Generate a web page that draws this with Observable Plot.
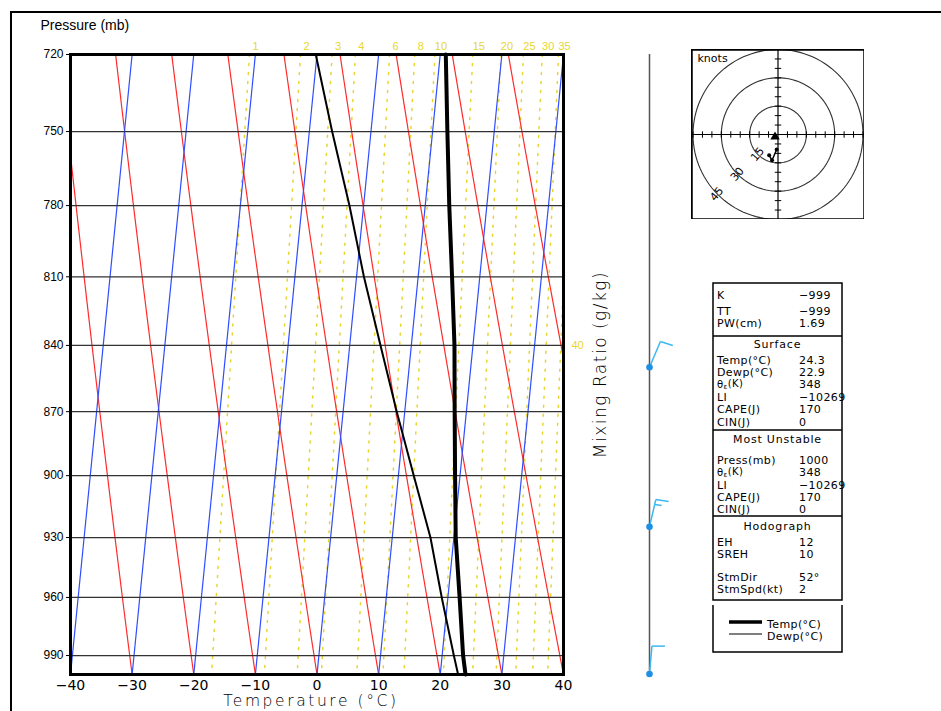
<!DOCTYPE html>
<html><head><meta charset="utf-8">
<script src="https://cdn.jsdelivr.net/npm/d3@7"></script>
<script src="https://cdn.jsdelivr.net/npm/@observablehq/plot@0.6"></script>
<style>
body{margin:0;background:#fff}
#wrap{position:relative;width:941px;height:711px;overflow:hidden;background:#fff}
#wrap > svg{position:absolute}
#border{position:absolute;left:10px;top:11px;width:940px;height:710px;border-left:2px solid #000;border-top:2px solid #000;pointer-events:none}
</style>
</head><body><div id="wrap"><div id="border"></div></div>
<script>
// ---------------- data ----------------
const pressureTicks = [720, 750, 780, 810, 840, 870, 900, 930, 960, 990];
const tempTicks = [-40, -30, -20, -10, 0, 10, 20, 30, 40];
const isotherms = [-50, -40, -30, -20, -10, 0, 10, 20, 30, 40];
const dryAdiabats = [-40, -30, -20, -10, 0, 10, 20, 30, 40, 50, 60];
const mixingRatios = [1, 2, 3, 4, 6, 8, 10, 15, 20, 25, 30, 35, 40];
const mixingLabelSide = [40];
const mixingLabelSideP = [840];
const profileP  = [1000, 990, 960, 930, 900, 870, 840, 810, 780, 750, 720];
const profileT  = [24.1, 23.4, 21.9, 20.3, 19.2, 18.1, 17.0, 15.5, 13.9, 12.4, 10.9];
const profileTd = [22.9, 21.9, 19.0, 16.2, 12.5, 8.7, 5.0, 1.2, -2.3, -6.3, -10.2];
const windP   = [1000, 925, 850];
const windDir = [5, 13, 23];
const windSpd = [8, 14, 12];
const hodoRings = [15, 30, 45];
const hodoTicks = [-45,-40,-35,-30,-25,-20,-15,-10,-5,5,10,15,20,25,30,35,40,45];
const stormDir = [52];
const stormSpd = [2];
const indexLabels = ["K", "TT", "PW(cm)"];
const indexValues = ["\u2212999", "\u2212999", "1.69"];
const surfaceLabels = ["Temp(\u00b0C)", "Dewp(\u00b0C)", "THETAE", "LI", "CAPE(J)", "CIN(J)"];
const surfaceValues = ["24.3", "22.9", "348", "\u221210269", "170", "0"];
const unstableLabels = ["Press(mb)", "THETAE", "LI", "CAPE(J)", "CIN(J)"];
const unstableValues = ["1000", "348", "\u221210269", "170", "0"];
const hodoLabels = ["EH", "SREH", "", "StmDir", "StmSpd(kt)"];
const hodoValues = ["12", "10", "", "52\u00b0", "2"];
const legendLabels = ["Temp(\u00b0C)", "Dewp(\u00b0C)"];

// ---------------- helpers (diagram geometry) ----------------
const SKEW = 10; // degrees C shift between 1000 and 720 mb
const skew = p => SKEW * Math.log(1000 / p) / Math.log(1000 / 720);
const pSamples = d3.range(720, 1000.001, 5);
const adiabatPts = dryAdiabats.flatMap(th => pSamples.map(p => {
  const t = (th + 273.15) * Math.pow(p / 1000, 0.2857) - 273.15;
  return {th, p, x: t + skew(p)};
}));
const tdFromW = (w, p) => { const e = w * p / 622; const l = Math.log(e / 6.112); return 243.5 * l / (17.67 - l); };
const mixPts = mixingRatios.flatMap(w => pSamples.map(p => ({w, p, x: tdFromW(w, p) + skew(p)})));
const mixTop = mixingRatios.filter(w => !mixingLabelSide.includes(w)).map(w => ({w, x: tdFromW(w, 720) + skew(720)}));
const sideLabels = mixingLabelSide.map((w, i) => ({w, p: mixingLabelSideP[i]}));
const profile = profileP.map((p, i) => ({p, t: profileT[i] + skew(p), td: profileTd[i] + skew(p)}));
const winds = windP.map((p, i) => ({p, dir: windDir[i], spd: windSpd[i],
  u: -windSpd[i] * Math.sin(windDir[i] * Math.PI / 180),
  v: -windSpd[i] * Math.cos(windDir[i] * Math.PI / 180)}));
const storm = stormDir.map((d, i) => ({u: -stormSpd[i] * Math.sin(d * Math.PI / 180), v: -stormSpd[i] * Math.cos(d * Math.PI / 180)}));

const gold = "#e8d62e";
const hershey = "DejaVu Sans";

function barbMark(index, scales) {
  const g = d3.create("svg:g");
  const sx = scales.x(40) + 86.5;
  g.append("line").attr("x1", sx).attr("x2", sx)
    .attr("y1", scales.y(720)).attr("y2", scales.y(1000))
    .attr("stroke", "#555").attr("stroke-width", 1.5);
  winds.forEach(w => {
    const by = scales.y(w.p);
    const th = w.dir * Math.PI / 180, L = 28;
    const ux = Math.sin(th), uy = -Math.cos(th);
    const tx = sx + L * ux, ty = by + L * uy;
    const fth = (w.dir + 85) * Math.PI / 180, fx = Math.sin(fth), fy = -Math.cos(fth);
    const s = Math.round(w.spd / 5) * 5;
    const full = Math.floor(s / 10), half = s % 10 >= 5;
    const stroke = "#3cb8f0";
    g.append("line").attr("x1", sx).attr("y1", by).attr("x2", tx).attr("y2", ty)
      .attr("stroke", stroke).attr("stroke-width", 1.5);
    let pos = 0;
    for (let k = 0; k < full; k++) {
      const x0 = tx - pos * ux, y0 = ty - pos * uy;
      g.append("line").attr("x1", x0).attr("y1", y0).attr("x2", x0 + 13 * fx).attr("y2", y0 + 13 * fy)
        .attr("stroke", stroke).attr("stroke-width", 1.5);
      pos += 5;
    }
    if (half) {
      if (full === 0) pos = 5;
      const x0 = tx - pos * ux, y0 = ty - pos * uy;
      g.append("line").attr("x1", x0).attr("y1", y0).attr("x2", x0 + 7 * fx).attr("y2", y0 + 7 * fy)
        .attr("stroke", stroke).attr("stroke-width", 1.5);
    }
    g.append("circle").attr("cx", sx).attr("cy", by).attr("r", 3.3).attr("fill", "#1e8fe6");
  });
  return g.node();
}

const main = Plot.plot({
  width: 941, height: 711,
  marginLeft: 70, marginRight: 378, marginTop: 54, marginBottom: 37,
  x: {domain: [-40, 40]},
  y: {type: "log", domain: [1000, 720]},
  style: {fontFamily: "Liberation Sans, Arial, sans-serif", background: "white", overflow: "visible"},
  marks: [
    Plot.line(mixPts, {x: "x", y: "p", z: "w", stroke: gold, strokeWidth: 1.5, strokeDasharray: "2,7", clip: true}),
    Plot.line(adiabatPts, {x: "x", y: "p", z: "th", stroke: "#ff2b2b", strokeWidth: 1.2, clip: true}),
    Plot.link(isotherms, {x1: d => d, y1: () => 1000, x2: d => d + skew(720), y2: () => 720, stroke: "#2f4dff", strokeWidth: 1.2, clip: true}),
    Plot.ruleY(pressureTicks.slice(1), {stroke: "#333", strokeWidth: 1.3}),
    Plot.line(profile, {x: "td", y: "p", stroke: "black", strokeWidth: 2}),
    Plot.line(profile, {x: "t", y: "p", stroke: "black", strokeWidth: 4}),
    Plot.frame({stroke: "black", strokeWidth: 3}),
    Plot.axisY({ticks: pressureTicks, tickSize: 4, tickFormat: () => "", label: null}),
    Plot.text(pressureTicks, {y: d => d, text: d => String(d), frameAnchor: "left", textAnchor: "end", dx: -7, fontSize: 12}),
    Plot.axisX({ticks: tempTicks, tickSize: 0, tickPadding: 6, label: null, fontSize: 14, fontFamily: hershey}),
    Plot.text(mixTop, {x: "x", y: () => 720, text: d => String(d.w), dy: -8, dx: 6, fill: gold, fontSize: 11}),
    Plot.text(sideLabels, {x: () => 40, y: "p", text: d => String(d.w), dx: 14, fill: gold, fontSize: 11}),
    Plot.text(["Temperature (\u00b0C)"], {frameAnchor: "bottom", lineAnchor: "middle", text: d => d, dy: 27, dx: -6, fontSize: 15.5, fontFamily: hershey}),
    Plot.text(["Mixing Ratio (g/kg)"], {frameAnchor: "right", textAnchor: "middle", lineAnchor: "middle", text: d => d, dx: 37, rotate: -90, fontSize: 17, fontFamily: hershey}),
    Plot.text(["Pressure (mb)"], {frameAnchor: "top-left", lineAnchor: "middle", text: d => d, dx: -30, dy: -29, textAnchor: "start", fontSize: 14}),
    barbMark
  ]
});
const wrap = document.getElementById("wrap");
wrap.insertBefore(main, wrap.firstChild);
main.style.left = "0px"; main.style.top = "0px";

const ms = d3.select(main);
ms.selectAll("text").filter(function(){ return this.textContent === "Temperature (\u00b0C)"; }).style("letter-spacing", "2.6px").attr("font-weight", 200);
ms.selectAll("text").filter(function(){ return this.textContent === "Mixing Ratio (g/kg)"; }).style("letter-spacing", "1.5px").attr("font-weight", 200);

// ---------------- stats panel ----------------
const sp = ms.append("g").attr("font-family", hershey).attr("font-size", 11).attr("fill", "black").attr("text-anchor", "start");
const bx0 = 713, bx1 = 842, lx = 717, vx = 799, cx = (bx0 + bx1) / 2;
sp.append("rect").attr("x", bx0).attr("y", 283).attr("width", bx1 - bx0).attr("height", 600 - 283)
  .attr("fill", "none").attr("stroke", "black").attr("stroke-width", 1.5);
[336, 430, 516].forEach(y => sp.append("line").attr("x1", bx0).attr("x2", bx1).attr("y1", y).attr("y2", y).attr("stroke", "black").attr("stroke-width", 1.5));
sp.append("path").attr("d", `M${bx0},605V652H${bx1}V605`).attr("fill", "none").attr("stroke", "black").attr("stroke-width", 1.5);

function row(label, value, y) {
  const t = sp.append("text").attr("x", lx).attr("y", y).attr("dy", "0.35em").attr("text-anchor", "start").style("letter-spacing", "0.4px");
  if (label === "THETAE") {
    t.attr("font-size", 10);
    t.text("\u03b8");
    t.append("tspan").attr("font-size", 7).attr("dy", "0.2em").text("\u03b5");
    t.append("tspan").attr("dy", "-0.2em").text("(K)");
  } else t.text(label);
  sp.append("text").attr("x", vx).attr("y", y).attr("dy", "0.35em").attr("text-anchor", "start").style("letter-spacing", "0.4px").text(value);
}
function header(label, y) {
  sp.append("text").attr("x", cx).attr("y", y).attr("dy", "0.35em").attr("text-anchor", "middle").style("letter-spacing", "0.8px").text(label);
}
[295, 311, 323].forEach((y, i) => row(indexLabels[i], indexValues[i], y));
header("Surface", 344);
[360, 372, 384, 397, 409, 422].forEach((y, i) => row(surfaceLabels[i], surfaceValues[i], y));
header("Most Unstable", 439);
[460, 472, 485, 497, 509].forEach((y, i) => row(unstableLabels[i], unstableValues[i], y));
header("Hodograph", 526);
[542, 554, 566, 577, 589].forEach((y, i) => { if (hodoLabels[i]) row(hodoLabels[i], hodoValues[i], y); });
sp.append("line").attr("x1", 729).attr("x2", 762).attr("y1", 622).attr("y2", 622).attr("stroke", "black").attr("stroke-width", 3.5);
sp.append("line").attr("x1", 729).attr("x2", 762).attr("y1", 634).attr("y2", 634).attr("stroke", "black").attr("stroke-width", 1.2);
sp.append("text").attr("x", 767).attr("y", 624).attr("dy", "0.35em").attr("text-anchor", "start").style("letter-spacing", "0.4px").text(legendLabels[0]);
sp.append("text").attr("x", 767).attr("y", 636).attr("dy", "0.35em").attr("text-anchor", "start").style("letter-spacing", "0.4px").text(legendLabels[1]);

// ---------------- hodograph ----------------
const ringPts = hodoRings.flatMap(r => d3.range(0, 361, 3).map(a => ({r, u: r * Math.cos(a * Math.PI / 180), v: r * Math.sin(a * Math.PI / 180)})));
const hodo = Plot.plot({
  width: 173, height: 170, margin: 0,
  x: {domain: [-45.8, 45.8], axis: null},
  y: {domain: [-45, 45], axis: null},
  style: {fontFamily: hershey, background: "white", overflow: "hidden"},
  marks: [
    Plot.line(ringPts, {x: "u", y: "v", z: "r", stroke: "#333", strokeWidth: 1.1, clip: true}),
    Plot.ruleX([0], {stroke: "black", strokeWidth: 1.2}),
    Plot.ruleY([0], {stroke: "black", strokeWidth: 1.2}),
    Plot.link(hodoTicks, {x1: d => d, x2: d => d, y1: () => -1.7, y2: () => 1.7, stroke: "black"}),
    Plot.link(hodoTicks, {y1: d => d, y2: d => d, x1: () => -1.7, x2: () => 1.7, stroke: "black"}),
    Plot.text(hodoRings, {x: r => -r * 0.72, y: r => -r * 0.70, text: r => String(r), rotate: -50, fontSize: 11}),
    Plot.text(["knots"], {frameAnchor: "top-left", text: d => d, dx: 6, dy: 5, textAnchor: "start", fontSize: 11}),
    Plot.line(winds, {x: "u", y: "v", stroke: "black", strokeWidth: 1.5}),
    Plot.dot(winds, {x: "u", y: "v", r: 2, fill: "black"}),
    Plot.dot(storm, {x: "u", y: "v", symbol: "triangle", r: 3.5, fill: "black"}),
    Plot.frame({stroke: "black", strokeWidth: 2.5})
  ]
});
hodo.style.left = "691px"; hodo.style.top = "49px";
wrap.appendChild(hodo);
</script>
</body></html>
